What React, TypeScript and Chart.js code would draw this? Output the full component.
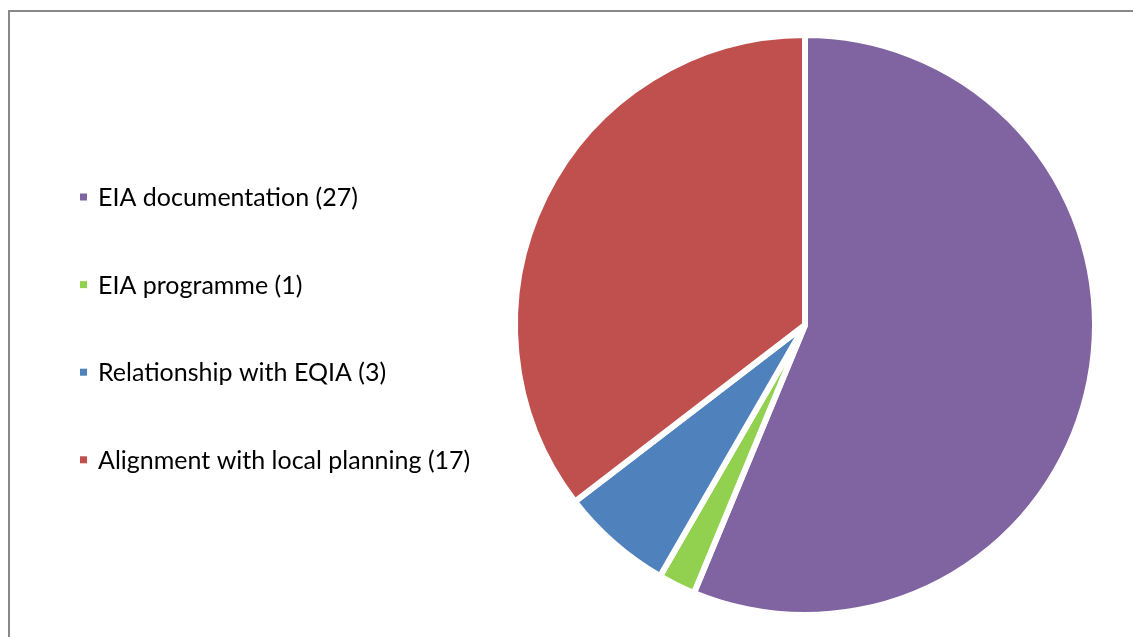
import React, { useEffect, useRef } from "react";
import { Chart, registerables } from "chart.js";

Chart.register(...registerables);

const categories = [
  "EIA documentation (27)",
  "EIA programme (1)",
  "Relationship with EQIA (3)",
  "Alignment with local planning (17)",
];
const values = [27, 1, 3, 17];
const colors = ["#8064A2", "#92D050", "#4F81BD", "#C0504D"];

const W = 1133;
const H = 637;

const framePlugin = {
  id: "frame",
  beforeDraw(chart: any) {
    const ctx = chart.ctx;
    ctx.save();
    ctx.fillStyle = "#ffffff";
    ctx.fillRect(0, 0, W, H);
    ctx.fillStyle = "#888888";
    ctx.fillRect(8, 10, W - 8, 2);
    ctx.fillRect(8, 10, 2, H - 10);
    ctx.restore();
  },
};

const legendPlugin = {
  id: "sideLegend",
  afterDraw(chart: any) {
    const ctx = chart.ctx;
    const labels: string[] = chart.data.labels;
    const bg: string[] = chart.data.datasets[0].backgroundColor;
    ctx.save();
    ctx.font = "25px Lato";
    ctx.textBaseline = "middle";
    ctx.textAlign = "left";
    const startY = 197;
    const step = 87.6;
    labels.forEach((lab, i) => {
      const cy = startY + i * step;
      ctx.fillStyle = bg[i];
      ctx.fillRect(80, cy - 3.5, 7, 7);
      ctx.fillStyle = "#000000";
      ctx.fillText(lab, 98, cy + 1);
    });
    ctx.restore();
  },
};

export default function App() {
  const ref = useRef<HTMLCanvasElement | null>(null);
  useEffect(() => {
    if (!ref.current) return;
    const chart = new Chart(ref.current, {
      type: "pie",
      data: {
        labels: categories,
        datasets: [
          {
            data: values,
            backgroundColor: colors,
            borderColor: "#ffffff",
            borderWidth: 6,
          },
        ],
      },
      options: {
        animation: false,
        responsive: false,
        devicePixelRatio: 1,
        layout: { padding: { left: 512, right: 35, top: 32, bottom: 19 } },
        plugins: {
          legend: { display: false },
          tooltip: { enabled: false },
        },
      },
      plugins: [framePlugin, legendPlugin],
    });
    return () => chart.destroy();
  }, []);
  return (
    <div style={{ position: "fixed", left: 0, top: 0, width: W, height: H, overflow: "hidden", background: "#fff" }}>
      <canvas ref={ref} width={W} height={H} style={{ display: "block", width: W, height: H }} />
    </div>
  );
}
